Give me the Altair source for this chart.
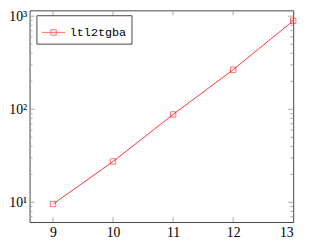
import altair as alt
import pandas as pd

# data
sizes = [9, 10, 11, 12, 13]
times = [9.6, 27.5, 88, 266, 893]
series_name = "ltl2tgba"

x_ticks = [9, 10, 11, 12]
y_major = [10, 100, 1000]
y_minor = [7, 8, 9, 20, 30, 40, 50, 60, 70, 80, 90,
           200, 300, 400, 500, 600, 700, 800, 900]

W, H = 269, 216
xscale = alt.Scale(domain=[8.61, 13], nice=False, zero=False)
yscale = alt.Scale(type="log", domain=[6.15, 1156], nice=False)

df = pd.DataFrame({"x": sizes, "y": times, "s": [series_name] * len(sizes)})
tick_col = "#a8a8a8"
serif = "Liberation Serif"

legend_path = "M-1,0H1M-0.23,-0.23H0.23V0.23H-0.23Z"
color = alt.Color("s:N", scale=alt.Scale(range=["#ff0000"]),
                  legend=alt.Legend(title=None, orient="none", legendX=7, legendY=5,
                                    symbolType=legend_path, symbolSize=576,
                                    symbolStrokeWidth=0.8, symbolFillColor="transparent",
                                    symbolStrokeColor="#ff0000",
                                    labelFont="Liberation Mono",
                                    labelFontSize=12,
                                    labelColor="black", labelOffset=4,
                                    padding=5, strokeColor="#444", fillColor="white",
                                    cornerRadius=0))

base = alt.Chart(df)
line = base.mark_line(strokeWidth=0.8).encode(
    x=alt.X("x:Q", scale=xscale,
            axis=alt.Axis(values=sizes, format="d", title=None, labelPadding=4,
                          labelFont=serif, labelFontSize=14)),
    y=alt.Y("y:Q", scale=yscale,
            axis=alt.Axis(values=y_major, title=None, labelPadding=3,
                          labelFont=serif, labelFontSize=14,
                          labelExpr="datum.value == 10 ? '10¹' : datum.value == 100 ? '10²' : '10³'")),
    color=color,
)
pts = base.mark_point(shape="square", filled=False, size=30, strokeWidth=0.8).encode(
    x=alt.X("x:Q", scale=xscale), y=alt.Y("y:Q", scale=yscale), color=color)

ymaj = pd.DataFrame({"v": y_major})
ymin = pd.DataFrame({"v": y_minor})
xt = pd.DataFrame({"v": x_ticks})

def yrule(d, x0, x1):
    return alt.Chart(d).mark_rule(color=tick_col, strokeWidth=1).encode(
        y=alt.Y("v:Q", scale=yscale), x=alt.value(x0), x2=alt.value(x1))

def xrule(y0, y1):
    return alt.Chart(xt).mark_rule(color=tick_col, strokeWidth=1).encode(
        x=alt.X("v:Q", scale=xscale), y=alt.value(y0), y2=alt.value(y1))

ticks = [yrule(ymaj, 0, 5), yrule(ymaj, W - 5, W), yrule(ymin, 0, 3), yrule(ymin, W - 3, W),
         xrule(H - 5, H), xrule(0, 5)]

chart = alt.layer(*ticks, line, pts).properties(
    width=W, height=H,
    autosize=alt.AutoSizeParams(type="none"),
    padding={"left": 22, "top": 0, "right": 10, "bottom": 19},
).configure_view(stroke="#444", strokeWidth=1).configure_axis(
    domain=False, ticks=False, grid=False, labelColor="black"
)

chart.save("out.html", embed_options={"renderer": "svg", "actions": False})
